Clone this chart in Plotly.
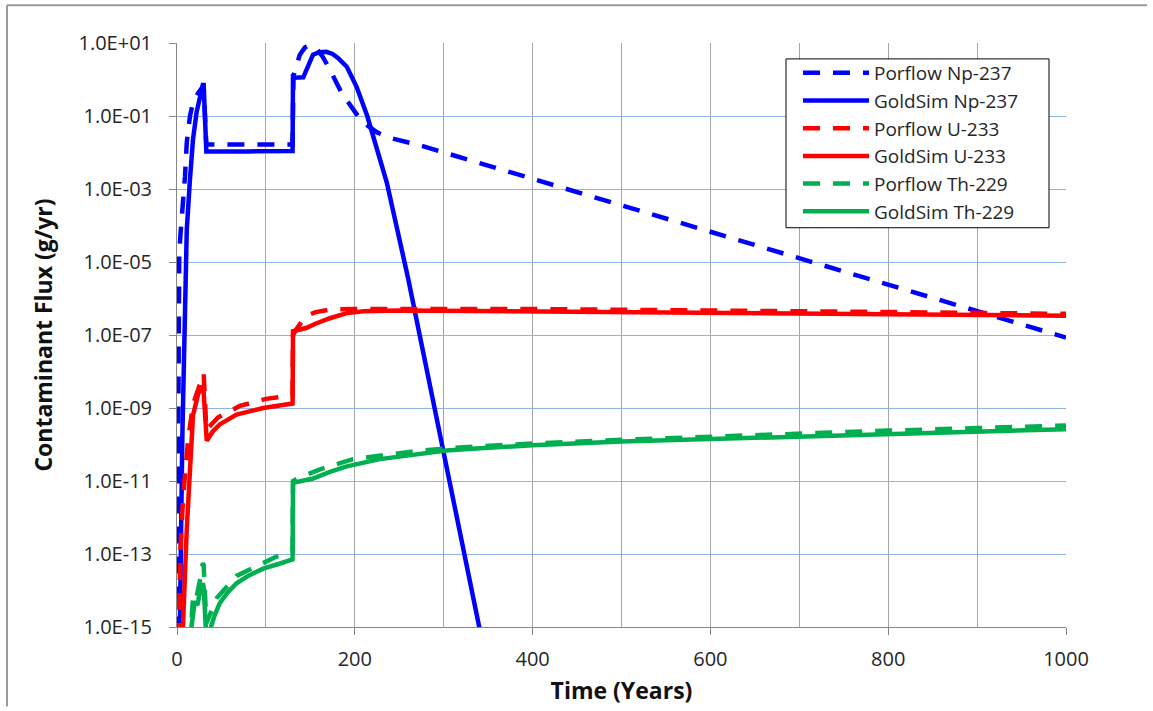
import plotly.graph_objects as go

# Contaminant flux (g/yr) versus time (years)
goldsim_np_t = [0, 3.4, 6, 9, 11, 14.6, 18, 22, 26, 29, 30, 33, 80, 130, 130.5, 132, 142, 147,
                153, 160, 168, 175, 181, 191, 202, 214, 225, 236, 260, 285, 310, 345]
goldsim_np = [1e-16, 2.0e-15, 1.6e-10, 1e-6, 7.9e-5, 1.86e-3, 2.29e-2, 0.126, 0.40, 0.71, 0.71,
              1.07e-2, 1.07e-2, 1.10e-2, 1.41, 1.12, 1.15, 2.24, 4.79, 5.62, 5.75, 5.01, 3.89,
              2.24, 0.63, 0.10, 1.2e-2, 1.5e-3, 3.55e-6, 3.98e-9, 3.98e-12, 2.5e-16]

porflow_np_t = [0, 1, 1.5, 2.5, 4, 5.6, 9, 11, 14.6, 18, 24, 29, 30, 33, 80, 130, 131, 134, 138,
                144, 150, 156, 164, 172, 185, 200, 208, 225, 240, 273, 600, 1000]
porflow_np = [1e-16, 1e-12, 1e-6, 1.58e-5, 6.3e-5, 1.58e-4, 2.24e-3, 1.9e-2, 0.1, 0.234, 0.437,
              0.63, 0.63, 1.66e-2, 1.66e-2, 1.66e-2, 1.26, 2.24, 4.68, 7.59, 8.91, 7.59, 4.17,
              1.86, 0.437, 0.132, 7.1e-2, 3.55e-2, 2.5e-2, 1.58e-2, 6.8e-5, 8.5e-8]

goldsim_u_t = [0, 6.7, 11, 14.6, 18, 24, 28, 29.5, 33.5, 40, 48, 67, 97, 130, 130.5, 140, 146,
               155, 172, 191, 210, 250, 400, 600, 800, 1000]
goldsim_u = [1e-17, 1e-15, 5.0e-13, 3.16e-11, 6.3e-10, 2.51e-9, 3.63e-9, 3.98e-9, 1.26e-10,
             2.24e-10, 3.55e-10, 6.6e-10, 1.0e-9, 1.32e-9, 1.26e-7, 1.48e-7, 1.58e-7, 2.0e-7,
             2.88e-7, 3.98e-7, 4.47e-7, 4.68e-7, 4.47e-7, 4.07e-7, 3.72e-7, 3.39e-7]

porflow_u_t = [0, 1.5, 2, 4, 7, 12.4, 18, 26, 29, 30, 33, 40, 46, 70, 100, 130, 130.5, 134, 140,
               148, 155, 172, 200, 400, 600, 800, 1000]
porflow_u = [1e-17, 1e-15, 6.3e-15, 1.58e-13, 3.98e-12, 1.26e-10, 1.26e-9, 4.37e-9, 7.94e-9,
             8.9e-9, 2.51e-10, 3.98e-10, 5.5e-10, 1.12e-9, 1.78e-9, 2.19e-9, 1.0e-7, 1.41e-7,
             2.24e-7, 3.55e-7, 4.17e-7, 5.01e-7, 5.13e-7, 5.13e-7, 4.79e-7, 4.27e-7, 3.8e-7]

goldsim_th_t = [0, 14, 17, 20, 23, 26, 29, 30, 33, 37, 42, 48, 57, 67, 80, 97, 115, 130, 130.5,
                140, 153, 172, 191, 228, 266, 303, 341, 400, 500, 600, 700, 800, 900, 1000]
goldsim_th = [1e-18, 3.16e-16, 1.58e-15, 5.0e-15, 3.98e-15, 1.0e-14, 1.58e-14, 1.26e-14,
              5.0e-16, 7.9e-16, 2.0e-15, 4.47e-15, 8.9e-15, 1.58e-14, 2.51e-14, 3.98e-14,
              5.4e-14, 7.1e-14, 8.9e-12, 1.0e-11, 1.17e-11, 1.78e-11, 2.51e-11, 3.98e-11,
              5.4e-11, 6.8e-11, 7.9e-11, 9.5e-11, 1.2e-10, 1.41e-10, 1.7e-10, 1.95e-10,
              2.29e-10, 2.63e-10]

porflow_th_t = [0, 15, 18, 21, 26, 29, 30, 33, 38, 45, 67, 97, 112, 130, 130.5, 138, 161, 198,
                236, 273, 318, 400, 500, 600, 700, 800, 900, 1000]
porflow_th = [1e-18, 5.0e-16, 6.3e-15, 5.0e-15, 2.0e-14, 5.6e-14, 5.0e-14, 1.26e-15, 2.51e-15,
              6.3e-15, 2.51e-14, 5.6e-14, 8.5e-14, 1.12e-13, 1.0e-11, 1.26e-11, 2.09e-11,
              3.98e-11, 5.4e-11, 6.8e-11, 8.3e-11, 1.07e-10, 1.35e-10, 1.66e-10, 2.0e-10,
              2.4e-10, 2.82e-10, 3.31e-10]

y_tick_vals = [1e1, 1e-1, 1e-3, 1e-5, 1e-7, 1e-9, 1e-11, 1e-13, 1e-15]
y_tick_text = ["1.0E+01", "1.0E-01", "1.0E-03", "1.0E-05", "1.0E-07", "1.0E-09",
               "1.0E-11", "1.0E-13", "1.0E-15"]
x_tick_vals = [0, 200, 400, 600, 800, 1000]

BLUE, RED, GREEN = "#0000FF", "#FF0000", "#00B050"
DASH = "17px,13px"
LW = 4.5

series = [
    ("Porflow Np-237", porflow_np_t, porflow_np, BLUE, DASH),
    ("GoldSim Np-237", goldsim_np_t, goldsim_np, BLUE, "solid"),
    ("Porflow U-233", porflow_u_t, porflow_u, RED, DASH),
    ("GoldSim U-233", goldsim_u_t, goldsim_u, RED, "solid"),
    ("Porflow Th-229", porflow_th_t, porflow_th, GREEN, DASH),
    ("GoldSim Th-229", goldsim_th_t, goldsim_th, GREEN, "solid"),
]

fig = go.Figure()
for name, t, v, color, dash in series:
    fig.add_trace(go.Scatter(
        x=t, y=v, name=name, mode="lines",
        line=dict(color=color, width=LW, dash=dash),
    ))

FONT = "Open Sans"
TEXT = "#262626"
AXIS_GREY = "#868686"

# plot area in pixels: x 177..1066, y 43..631
def px_x(p):
    return (p - 177) / 889


def px_y(p):
    return (631 - p) / 588


fig.update_layout(
    width=1153, height=711,
    margin=dict(l=177, r=87, t=43, b=80),
    paper_bgcolor="white", plot_bgcolor="white",
    font=dict(family=FONT, size=20, color=TEXT),
    showlegend=True,
    legend=dict(
        x=px_x(798), y=px_y(54), xanchor="left", yanchor="top",
        bgcolor="rgba(0,0,0,0)", borderwidth=0,
        font=dict(family=FONT, size=19, color=TEXT),
        itemwidth=66, tracegroupgap=0,
    ),
    xaxis=dict(
        range=[0, 1000], tickvals=x_tick_vals,
        showgrid=True, gridcolor="#A6A6A6", gridwidth=1,
        minor=dict(dtick=100, showgrid=True, gridcolor="#A6A6A6", gridwidth=1, ticks=""),
        showline=True, linecolor=AXIS_GREY, linewidth=1,
        ticks="outside", ticklen=7, tickcolor=AXIS_GREY, ticklabelstandoff=7,
        zeroline=False,
        tickfont=dict(family=FONT, size=20, color=TEXT),
        title=dict(text="<b>Time (Years)</b>", font=dict(family=FONT, size=23, color="#111111"),
                   standoff=11),
    ),
    yaxis=dict(
        type="log", range=[-15, 1],
        tickvals=y_tick_vals, ticktext=y_tick_text,
        showgrid=True, gridcolor="#8EB4E3", gridwidth=1,
        showline=True, linecolor=AXIS_GREY, linewidth=1,
        ticks="outside", ticklen=7, tickcolor=AXIS_GREY, ticklabelstandoff=13,
        zeroline=False,
        tickfont=dict(family=FONT, size=20, color=TEXT),
        title=dict(text="<b>Contaminant Flux (g/yr)</b>",
                   font=dict(family=FONT, size=23, color="#111111"), standoff=19),
    ),
    shapes=[
        # legend frame
        dict(type="rect", xref="paper", yref="paper", layer="above",
             x0=px_x(786), x1=px_x(1049), y0=px_y(229), y1=px_y(59),
             fillcolor="white", line=dict(color="#000000", width=1)),
        # outer chart border
        dict(type="line", xref="paper", yref="paper",
             x0=px_x(7), x1=px_x(7), y0=px_y(711), y1=px_y(5),
             line=dict(color="#9a9a9a", width=2)),
        dict(type="line", xref="paper", yref="paper",
             x0=px_x(7), x1=px_x(1147), y0=px_y(5), y1=px_y(5),
             line=dict(color="#9a9a9a", width=2)),
    ],
)

fig.write_html("out.html")
